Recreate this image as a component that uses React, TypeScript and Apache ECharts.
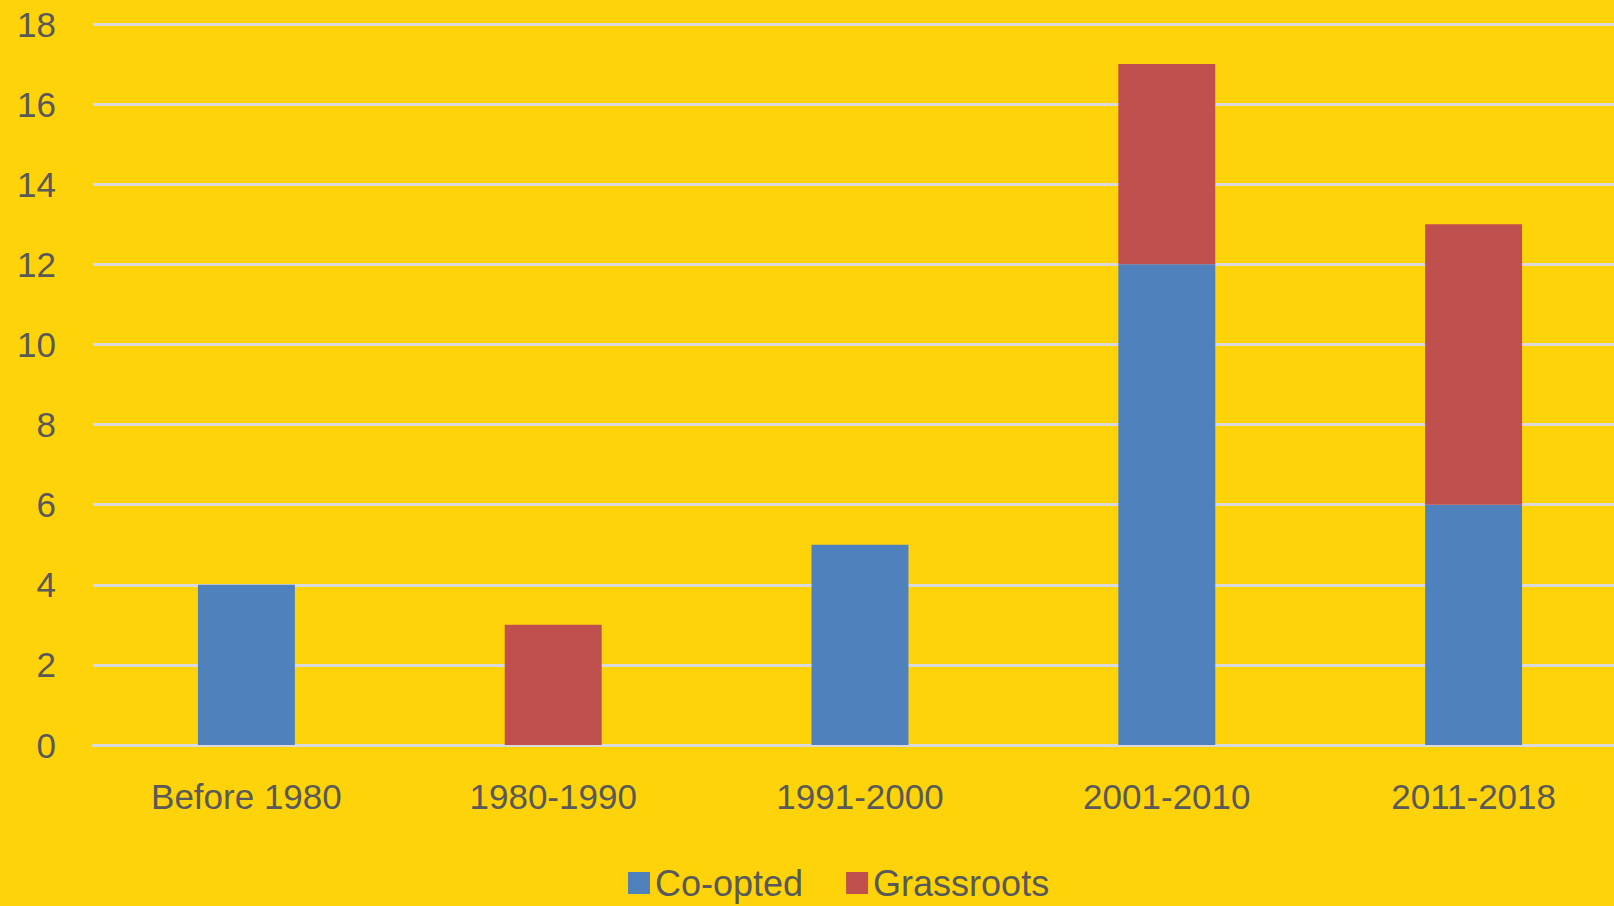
import React, { useEffect, useRef } from "react";
import * as echarts from "echarts";

const categories = ["Before 1980", "1980-1990", "1991-2000", "2001-2010", "2011-2018"];
const coopted = [4, 0, 5, 12, 6];
const grassroots = [0, 3, 0, 5, 7];
const seriesNames = ["Co-opted", "Grassroots"];

const FONT = "Liberation Sans";
const TXT = "#595959";

export default function App() {
  const ref = useRef<HTMLDivElement>(null);
  useEffect(() => {
    const chart = echarts.init(ref.current!, undefined, { renderer: "svg" });
    chart.setOption({
      animation: false,
      backgroundColor: "#FFD30A",
      grid: {
        left: 93,
        width: 1534,
        top: 24,
        bottom: 161,
        containLabel: false,
        outerBoundsMode: "none",
      },
      legend: {
        data: seriesNames,
        left: 628,
        top: 865,
        padding: 0,
        itemWidth: 22,
        itemHeight: 22,
        itemGap: 43,
        icon: "rect",
        textStyle: { fontFamily: FONT, fontSize: 36, color: TXT },
      },
      xAxis: {
        type: "category",
        data: categories,
        axisTick: { show: false },
        axisLine: { show: true, lineStyle: { color: "#D9D9D9", width: 3 } },
        axisLabel: { fontFamily: FONT, fontSize: 35, color: TXT, margin: 34 },
      },
      yAxis: {
        type: "value",
        min: 0,
        max: 18,
        interval: 2,
        axisLine: { show: false },
        axisTick: { show: false },
        splitLine: { lineStyle: { color: "#D9D9D9", width: 3 } },
        axisLabel: { fontFamily: FONT, fontSize: 35, color: TXT, margin: 37 },
      },
      series: [
        {
          name: seriesNames[0],
          type: "bar",
          stack: "a",
          data: coopted,
          barWidth: "31.6%",
          itemStyle: { color: "#4F81BD" },
        },
        {
          name: seriesNames[1],
          type: "bar",
          stack: "a",
          data: grassroots,
          barWidth: "31.6%",
          itemStyle: { color: "#C0504D" },
        },
      ],
    });
    return () => chart.dispose();
  }, []);
  return (
    <div
      ref={ref}
      style={{ position: "fixed", left: 0, top: 0, width: 1614, height: 906 }}
    />
  );
}
